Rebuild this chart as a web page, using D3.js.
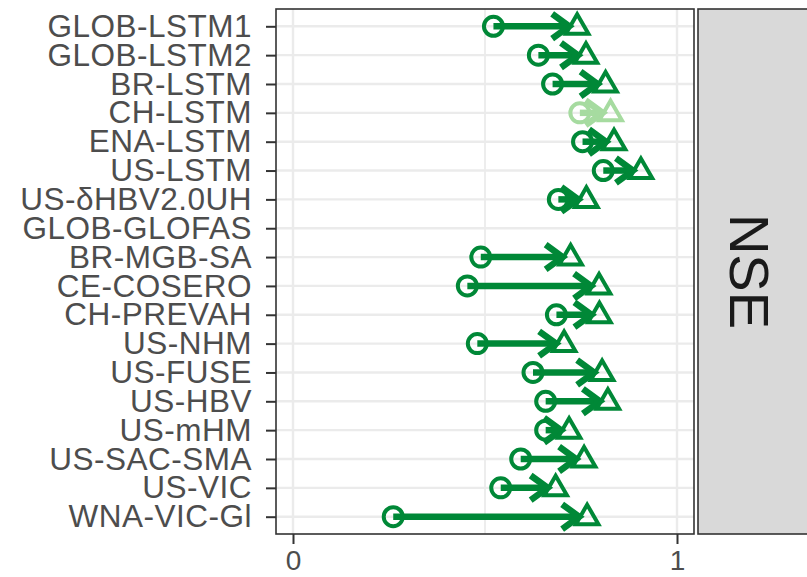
<!DOCTYPE html>
<html>
<head>
<meta charset="utf-8">
<script src="https://cdn.jsdelivr.net/npm/d3@7"></script>
<style>
  body { margin: 0; background: #fff; }
  svg text { font-family: "Liberation Sans", Arial, sans-serif; }
</style>
</head>
<body>
<svg width="807" height="577"></svg>
<script>
const models = [
  'GLOB-LSTM1', 'GLOB-LSTM2', 'BR-LSTM', 'CH-LSTM', 'ENA-LSTM', 'US-LSTM',
  'US-δHBV2.0UH', 'GLOB-GLOFAS', 'BR-MGB-SA', 'CE-COSERO', 'CH-PREVAH',
  'US-NHM', 'US-FUSE', 'US-HBV', 'US-mHM', 'US-SAC-SMA', 'US-VIC', 'WNA-VIC-Gl'
];
// circle = start value, triangle = end value (NSE)
const nseStart = [0.522, 0.639, 0.676, 0.747, 0.754, 0.808, 0.691, null, 0.489, 0.454,
  0.686, 0.480, 0.625, 0.658, 0.658, 0.593, 0.541, 0.261];
const nseEnd = [0.740, 0.763, 0.814, 0.827, 0.836, 0.906, 0.764, null, 0.723, 0.797,
  0.798, 0.706, 0.805, 0.820, 0.719, 0.758, 0.684, 0.766];
const highlight = ['CH-LSTM'];
const xTicks = [0, 1];
const facetLabel = 'NSE';

const data = models.map((m, i) => ({ model: m, start: nseStart[i], end: nseEnd[i] }))
  .filter(d => d.start != null && d.end != null);

const svg = d3.select('svg');
const panel = { left: 276, right: 694, top: 9, bottom: 534 };

const xScale = d3.scaleLinear().domain([0, 1]).range([293, 677]);
const yScale = d3.scalePoint().domain(models).range([panel.top, panel.bottom]).padding(0.6);

const colour = d => highlight.includes(d.model) ? '#a6dba0' : '#008837';

// panel background and grid
svg.append('rect')
  .attr('x', panel.left).attr('y', panel.top)
  .attr('width', panel.right - panel.left).attr('height', panel.bottom - panel.top)
  .style('fill', '#fff');

svg.append('g').selectAll('line.minor')
  .data([0.5])
  .enter().append('line')
  .attr('x1', d => xScale(d)).attr('x2', d => xScale(d))
  .attr('y1', panel.top).attr('y2', panel.bottom)
  .style('stroke', '#ebebeb').style('stroke-width', 1.8);

svg.append('g').selectAll('line.vgrid')
  .data(xTicks)
  .enter().append('line')
  .attr('x1', d => xScale(d)).attr('x2', d => xScale(d))
  .attr('y1', panel.top).attr('y2', panel.bottom)
  .style('stroke', '#ebebeb').style('stroke-width', 2.4);

svg.append('g').selectAll('line.hgrid')
  .data(models)
  .enter().append('line')
  .attr('x1', panel.left).attr('x2', panel.right)
  .attr('y1', d => yScale(d)).attr('y2', d => yScale(d))
  .style('stroke', '#ebebeb').style('stroke-width', 2.4);

// arrows
const arrowGap = 8;
const headLen = 21;
const headAng = 36 * Math.PI / 180;

const arrows = svg.append('g').selectAll('g.arrow')
  .data(data)
  .enter().append('g')
  .attr('class', 'arrow')
  .style('stroke', colour)
  .style('fill', 'none')
  .style('stroke-width', 6.5);

arrows.append('line')
  .attr('x1', d => xScale(d.start))
  .attr('x2', d => xScale(d.end) - arrowGap)
  .attr('y1', d => yScale(d.model))
  .attr('y2', d => yScale(d.model));

arrows.append('path')
  .attr('d', d => {
    const tx = xScale(d.end) - arrowGap, ty = yScale(d.model);
    const dx = headLen * Math.cos(headAng), dy = headLen * Math.sin(headAng);
    return `M${tx - dx},${ty - dy}L${tx},${ty}L${tx - dx},${ty + dy}`;
  })
  .style('stroke-linejoin', 'miter');

// start circles
svg.append('g').selectAll('circle.start')
  .data(data)
  .enter().append('circle')
  .attr('cx', d => xScale(d.start))
  .attr('cy', d => yScale(d.model))
  .attr('r', 9.5)
  .style('fill', 'none')
  .style('stroke', colour)
  .style('stroke-width', 4);

// end triangles
const tri = d3.symbol().type(d3.symbolTriangle).size(220);
svg.append('g').selectAll('path.end')
  .data(data)
  .enter().append('path')
  .attr('transform', d => `translate(${xScale(d.end)},${yScale(d.model) + 1})`)
  .attr('d', tri)
  .style('fill', 'none')
  .style('stroke', colour)
  .style('stroke-width', 4)
  .style('stroke-linejoin', 'miter');

// panel border
svg.append('rect')
  .attr('x', panel.left).attr('y', panel.top)
  .attr('width', panel.right - panel.left).attr('height', panel.bottom - panel.top)
  .style('fill', 'none').style('stroke', '#333').style('stroke-width', 1.6);

// facet strip
svg.append('rect')
  .attr('x', 698).attr('y', panel.top)
  .attr('width', 120).attr('height', panel.bottom - panel.top)
  .style('fill', '#d9d9d9').style('stroke', '#333').style('stroke-width', 1.6);

svg.append('text')
  .attr('transform', `translate(750,${(panel.top + panel.bottom) / 2}) rotate(90)`)
  .attr('text-anchor', 'middle')
  .attr('dy', '0.36em')
  .style('font-size', '56px')
  .style('fill', '#1a1a1a')
  .text(facetLabel);

// axes
const yAxis = d3.axisLeft(yScale).tickSize(10).tickPadding(14);
const yAxisG = svg.append('g')
  .attr('transform', `translate(${panel.left},0)`)
  .call(yAxis);

const xAxis = d3.axisBottom(xScale).tickValues(xTicks).tickFormat(d3.format('d'))
  .tickSize(10).tickPadding(6);
const xAxisG = svg.append('g')
  .attr('transform', `translate(0,${panel.bottom})`)
  .call(xAxis);

[yAxisG, xAxisG].forEach(g => {
  g.select('.domain').remove();
  g.selectAll('.tick line').style('stroke', '#333').style('stroke-width', 2);
  g.selectAll('.tick text')
    .style('fill', '#4d4d4d')
    .style('font-family', '"Liberation Sans", Arial, sans-serif');
});
yAxisG.selectAll('.tick text').style('font-size', '31.5px').style('letter-spacing', '0.5px');
xAxisG.selectAll('.tick text').style('font-size', '28px');
</script>
</body>
</html>
